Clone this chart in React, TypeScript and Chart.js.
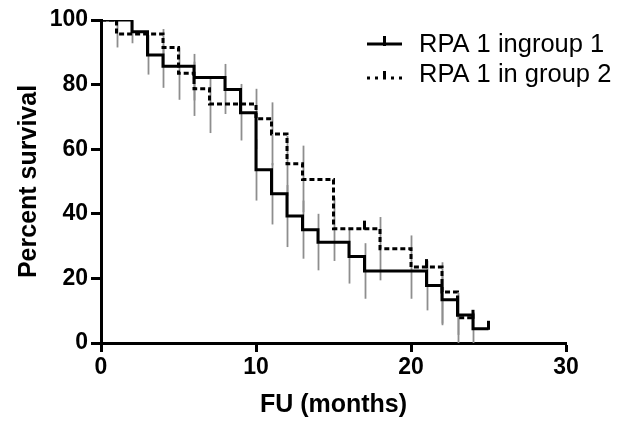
import React, { useEffect, useRef } from "react";
import { Chart, registerables } from "chart.js";

Chart.register(...registerables);

// ---- data ----
const xTicks = [0, 10, 20, 30];
const yTicks = [0, 20, 40, 60, 80, 100];

const legendLabels = ["RPA 1 ingroup 1", "RPA 1 in group 2"];
const xTitle = "FU (months)";
const yTitle = "Percent survival";

// group 1 (solid)
const group1Times = [0, 2, 3, 4, 6, 8, 9, 10, 11, 12, 13, 14, 16, 17, 21, 22, 23, 24, 25];
const group1Surv = [100, 96.4, 89.2, 85.7, 82.2, 78.5, 71.3, 53.6, 46.2, 39.3, 35.1, 31.2, 26.8, 22.3, 17.8, 13.4, 8.7, 4.4, 4.4];
const group1ErrTimes = [2, 3, 4, 6, 8, 9, 10, 11, 12, 13, 14, 16, 17, 21, 22, 23, 24];
const group1ErrLow = [92.8, 83.1, 79.0, 75.1, 70.9, 62.7, 44.1, 36.7, 29.7, 26.1, 22.5, 18.4, 13.7, 10.1, 6.0, 2.5, 0];
const group1ErrHigh = [99.8, 95.3, 92.3, 89.5, 86.4, 80.2, 63.1, 55.7, 48.9, 44.1, 40.0, 35.0, 30.9, 25.5, 20.8, 14.7, 9.5];
const group1CensorTimes = [25];
const group1CensorSurv = [4.4];

// group 2 (dashed)
const group2Times = [0, 1, 4, 5, 6, 7, 10, 11, 12, 13, 15, 18, 20, 22, 23, 24];
const group2Surv = [100, 95.7, 91.5, 83.5, 78.7, 74.0, 69.4, 64.7, 55.5, 50.6, 35.4, 29.2, 23.5, 15.8, 7.8, 7.8];
const group2ErrTimes = [1, 4, 5, 6, 7, 10, 11, 12, 13, 15, 18, 20, 22, 23];
const group2ErrLow = [91.5, 85.9, 75.3, 70.3, 65.0, 60.0, 55.0, 45.5, 40.5, 25.4, 19.4, 13.7, 5.5, 0];
const group2ErrHigh = [99.8, 97.2, 91.5, 87.1, 82.0, 78.7, 74.5, 64.2, 61.1, 45.0, 39.0, 33.3, 25.0, 15.5];
const group2CensorTimes = [17, 21, 24];
const group2CensorSurv = [35.4, 23.5, 7.8];

const FONT = '"Liberation Sans", Arial, Helvetica, sans-serif';

export default function App() {
  const canvasRef = useRef<HTMLCanvasElement | null>(null);

  useEffect(() => {
    const canvas = canvasRef.current;
    if (!canvas) return;

    const toPts = (ts: number[], ss: number[]) => ts.map((t, i) => ({ x: t, y: ss[i] }));

    const errorBars = {
      id: "errorBars",
      beforeDatasetsDraw(chart: any) {
        const { ctx, scales } = chart;
        const xs = scales.x;
        const ys = scales.y;
        ctx.save();
        ctx.strokeStyle = "#8e8e8e";
        ctx.lineWidth = 1.8;
        const sets = [
          [group1ErrTimes, group1ErrLow, group1ErrHigh],
          [group2ErrTimes, group2ErrLow, group2ErrHigh],
        ];
        for (const [ts, lo, hi] of sets) {
          ts.forEach((t: number, i: number) => {
            const px = Math.round(xs.getPixelForValue(t)) + 0.5;
            ctx.beginPath();
            ctx.moveTo(px, ys.getPixelForValue(lo[i]));
            ctx.lineTo(px, ys.getPixelForValue(hi[i]));
            ctx.stroke();
          });
        }
        ctx.restore();
      },
    };

    const censorTicks = {
      id: "censorTicks",
      afterDatasetsDraw(chart: any) {
        const { ctx, scales } = chart;
        const xs = scales.x;
        const ys = scales.y;
        ctx.save();
        ctx.strokeStyle = "#000";
        ctx.lineWidth = 3;
        const sets = [
          [group1CensorTimes, group1CensorSurv],
          [group2CensorTimes, group2CensorSurv],
        ];
        for (const [ts, ss] of sets) {
          ts.forEach((t: number, i: number) => {
            const px = xs.getPixelForValue(t);
            const py = ys.getPixelForValue(ss[i]);
            ctx.beginPath();
            ctx.moveTo(px, py + 1);
            ctx.lineTo(px, py - 8);
            ctx.stroke();
          });
        }
        ctx.restore();
      },
    };

    const legendPlugin = {
      id: "customLegend",
      afterDraw(chart: any) {
        const { ctx } = chart;
        ctx.save();
        ctx.fillStyle = "#000";
        ctx.strokeStyle = "#000";
        ctx.font = `25.5px ${FONT}`;
        ctx.textBaseline = "middle";
        ctx.textAlign = "left";
        // entry 1
        ctx.lineWidth = 3;
        ctx.setLineDash([]);
        ctx.beginPath();
        ctx.moveTo(367, 44);
        ctx.lineTo(402, 44);
        ctx.moveTo(384.5, 46);
        ctx.lineTo(384.5, 36);
        ctx.stroke();
        ctx.fillText(legendLabels[0], 419, 45);
        // entry 2
        ctx.setLineDash([3, 5]);
        ctx.beginPath();
        ctx.moveTo(367, 78);
        ctx.lineTo(402, 78);
        ctx.stroke();
        ctx.setLineDash([]);
        ctx.beginPath();
        ctx.moveTo(384.5, 79);
        ctx.lineTo(384.5, 71);
        ctx.stroke();
        ctx.fillText(legendLabels[1], 419, 75);
        ctx.restore();
      },
    };

    const chart = new Chart(canvas, {
      type: "line",
      data: {
        datasets: [
          {
            label: legendLabels[0],
            data: toPts(group1Times, group1Surv),
            borderColor: "#000",
            borderWidth: 3,
            stepped: "before",
            pointRadius: 0,
            fill: false,
          },
          {
            label: legendLabels[1],
            data: toPts(group2Times, group2Surv),
            borderColor: "#000",
            borderWidth: 3,
            borderDash: [5, 3],
            stepped: "before",
            pointRadius: 0,
            fill: false,
          },
        ],
      },
      options: {
        responsive: false,
        animation: false,
        devicePixelRatio: 1,
        layout: { padding: { left: 0, top: 20, right: 72, bottom: 0 } },
        plugins: {
          legend: { display: false },
          tooltip: { enabled: false },
        },
        scales: {
          x: {
            type: "linear",
            min: 0,
            max: 30,
            afterBuildTicks: (s: any) => {
              s.ticks = xTicks.map((v) => ({ value: v }));
            },
            afterFit: (s: any) => {
              s.height = 80;
            },
            ticks: {
              color: "#000",
              font: { family: FONT, size: 23, weight: "bold" },
              padding: 2,
              maxRotation: 0,
            },
            grid: {
              display: true,
              drawOnChartArea: false,
              drawTicks: true,
              tickLength: 9,
              tickWidth: 3,
              tickColor: "#000",
            },
            border: { display: true, color: "#000", width: 3 },
            title: {
              display: true,
              text: xTitle,
              color: "#000",
              font: { family: FONT, size: 25, weight: "bold" },
              padding: { top: 0, bottom: 3 },
            },
          },
          y: {
            type: "linear",
            min: 0,
            max: 100,
            afterBuildTicks: (s: any) => {
              s.ticks = yTicks.map((v) => ({ value: v }));
            },
            afterFit: (s: any) => {
              s.width = 101;
            },
            ticks: {
              color: "#000",
              font: { family: FONT, size: 23, weight: "bold" },
              padding: 3,
            },
            grid: {
              display: true,
              drawOnChartArea: false,
              drawTicks: true,
              tickLength: 10,
              tickWidth: 3,
              tickColor: "#000",
            },
            border: { display: true, color: "#000", width: 3 },
            title: {
              display: true,
              text: yTitle,
              color: "#000",
              font: { family: FONT, size: 25, weight: "bold" },
              padding: { top: 14, bottom: 0 },
            },
          },
        },
      },
      plugins: [errorBars, censorTicks, legendPlugin],
    } as any);

    return () => {
      chart.destroy();
    };
  }, []);

  return (
    <div style={{ position: "fixed", left: 0, top: 0, width: 638, height: 423, background: "#fff" }}>
      <canvas ref={canvasRef} width={638} height={423} style={{ display: "block" }} />
    </div>
  );
}
